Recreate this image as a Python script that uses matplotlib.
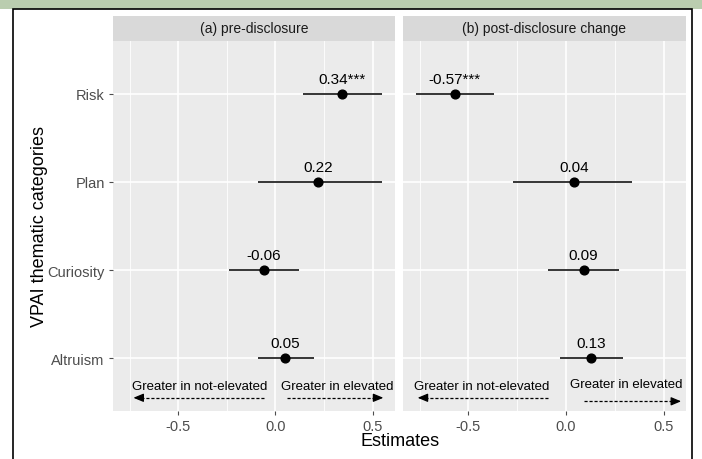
import matplotlib
matplotlib.use("Agg")
import matplotlib.pyplot as plt
from matplotlib.patches import Rectangle

plt.rcParams['font.family'] = ['Liberation Sans', 'DejaVu Sans']

categories = ["Altruism", "Curiosity", "Plan", "Risk"]
panel_titles = ["(a) pre-disclosure", "(b) post-disclosure change"]

pre_est = [0.05, -0.06, 0.22, 0.34]
pre_lo = [-0.09, -0.24, -0.09, 0.14]
pre_hi = [0.20, 0.12, 0.55, 0.55]
pre_lab = ["0.05", "-0.06", "0.22", "0.34***"]

post_est = [0.13, 0.09, 0.04, -0.57]
post_lo = [-0.03, -0.09, -0.27, -0.77]
post_hi = [0.29, 0.27, 0.34, -0.37]
post_lab = ["0.13", "0.09", "0.04", "-0.57***"]

xticks = [-0.5, 0.0, 0.5]
xtick_labels = ["-0.5", "0.0", "0.5"]
minor_x = [-0.75, -0.25, 0.25]

# direction annotations: (text, text_x, text_y, arrow_start, arrow_end, arrow_y)
notes_pre = [("Greater in not-elevated", -0.39, 0.68, -0.06, -0.73, 0.55),
             ("Greater in elevated", 0.32, 0.68, 0.06, 0.555, 0.55)]
notes_post = [("Greater in not-elevated", -0.43, 0.68, -0.09, -0.76, 0.55),
              ("Greater in elevated", 0.31, 0.71, 0.09, 0.59, 0.51)]

W, H = 702, 460
fig = plt.figure(figsize=(W / 100, H / 100), dpi=100)
fig.patch.set_facecolor("white")

def px(x0, y0, w, h):
    return [x0 / W, 1 - (y0 + h) / H, w / W, h / H]

# green top band and black frame
fig.patches.append(Rectangle((0, 1 - 9.5 / H), 1, 9.5 / H, transform=fig.transFigure,
                             facecolor="#BACDAF", edgecolor="none", zorder=-10))
fig.patches.append(Rectangle((13 / W, -0.01), (692 - 13) / W, 1 - 9.5 / H + 0.01,
                             transform=fig.transFigure, facecolor="white",
                             edgecolor="black", linewidth=1.2, zorder=-10))

panels = [(113, 282, pre_est, pre_lo, pre_hi, pre_lab, notes_pre),
          (403, 283, post_est, post_lo, post_hi, post_lab, notes_post)]

ypos = list(range(1, len(categories) + 1))
for i, (x0, w, est, lo, hi, lab, notes) in enumerate(panels):
    ax = fig.add_axes(px(x0, 42, w, 370))
    ax.set_zorder(5)
    ax.set_facecolor("#EBEBEB")
    for s in ax.spines.values():
        s.set_visible(False)
    ax.set_xlim(-0.835, 0.615)
    ax.set_ylim(0.4, 4.6)
    for mx in minor_x:
        ax.axvline(mx, color="white", lw=0.6, zorder=0)
    for mx in xticks:
        ax.axvline(mx, color="white", lw=1.2, zorder=0)
    for y in ypos:
        ax.axhline(y, color="white", lw=1.2, zorder=0)
    ax.hlines(ypos, lo, hi, color="black", lw=1.1, zorder=2)
    ax.plot(est, ypos, "o", color="black", ms=6.3, zorder=3)
    for e, y, t in zip(est, ypos, lab):
        ax.text(e, y + 0.09, t, ha="center", va="bottom", fontsize=11, color="black")
    for (t, tx, ty, a0, a1, ay) in notes:
        ax.text(tx, ty, t, ha="center", va="center", fontsize=9.5, color="black")
        d = -1 if a1 < a0 else 1
        ax.plot([a0, a1 - d * 0.02], [ay, ay], color="black", lw=0.9, ls=(0, (2.5, 1.5)))
        ax.annotate("", xy=(a1, ay), xytext=(a1 - d * 0.04, ay),
                    arrowprops=dict(arrowstyle="-|>,head_length=0.6,head_width=0.25",
                                    color="black", lw=0.9, shrinkA=0, shrinkB=0))
    ax.set_xticks(xticks)
    ax.set_xticklabels(xtick_labels)
    ax.tick_params(axis="x", colors="#4D4D4D", labelcolor="#4D4D4D", labelsize=10.5,
                   length=3, width=0.8, pad=3)
    ax.set_yticks(ypos)
    if i == 0:
        ax.set_yticklabels(categories)
        ax.tick_params(axis="y", colors="#4D4D4D", labelcolor="#4D4D4D", labelsize=10.5,
                       length=3, width=0.8, pad=3)
    else:
        ax.tick_params(axis="y", length=0, labelleft=False)
    # strip
    sax = fig.add_axes(px(x0, 17, w, 25))
    sax.set_zorder(5)
    sax.set_facecolor("#D9D9D9")
    sax.set_xticks([]); sax.set_yticks([])
    for s in sax.spines.values():
        s.set_visible(False)
    sax.text(0.5, 0.5, panel_titles[i], ha="center", va="center", fontsize=10,
             color="#1A1A1A", transform=sax.transAxes)

fig.text(400 / W, 1 - 442 / H, "Estimates", ha="center", va="center", fontsize=13)
fig.text(40 / W, 1 - 227 / H, "VPAI thematic categories", ha="center", va="center",
         fontsize=13, rotation=90)

fig.savefig("out.png", dpi=100)
